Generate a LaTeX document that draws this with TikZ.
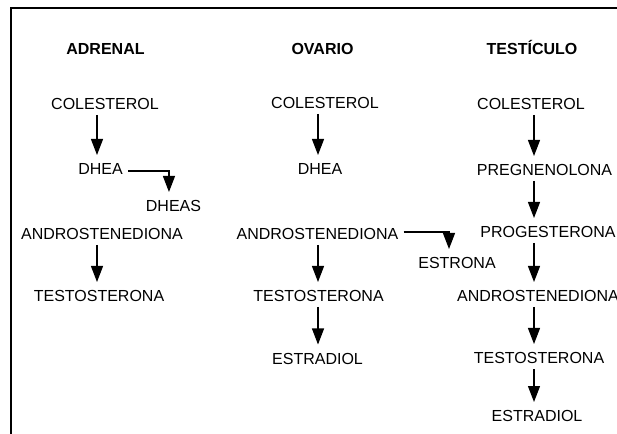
\documentclass[tikz,border=0pt]{standalone}
\usepackage{fontspec}
\setmainfont{Liberation Sans}
\usetikzlibrary{arrows.meta,positioning,calc}

\begin{document}
\begin{tikzpicture}[%
    x=0.75pt, y=-0.75pt,
    basic/.style={inner sep=0pt,text height=8.6pt,text depth=0pt,font=\fontsize{12}{14}\selectfont},
    organ/.style={basic,font=\bfseries\fontsize{12}{14}\selectfont},
    conv/.style={draw,line width=0.9pt,-{Triangle[width=9pt,length=12pt]},shorten <=3.75pt,shorten >=6pt},
    frame/.style={draw,line width=1.1pt}
]
        \useasboundingbox (0,0) rectangle (617,434);
        \path[frame] (617,8) -- (11,8) -- (11,434);

        % adrenal
        \node[organ] (tA) at (105.5,49) {ADRENAL};
        \node[basic] (aCol) at (105,104) {COLESTEROL};
        \node[basic] (aDhea) at (100.5,169) {DHEA};
        \node[basic] (aDheas) at (173.5,206) {DHEAS};
        \node[basic] (aAndro) at (102,234) {ANDROSTENEDIONA};
        \node[basic] (aTesto) at (99,296) {TESTOSTERONA};
        \coordinate (axA) at (97,0);

        \path[conv] (aCol.south -| axA) -- (aDhea.north -| axA);
        \path[conv] ([yshift=-1.5pt]aDhea.east) -| ([xshift=-3.4pt]aDheas.north);
        \path[conv] (aAndro.south -| axA) -- (aTesto.north -| axA);

        % ovario
        \node[organ] (tO) at (322.5,49) {OVARIO};
        \node[basic] (oCol) at (325,103) {COLESTEROL};
        \node[basic] (oDhea) at (320,169) {DHEA};
        \node[basic] (oAndro) at (317.5,234) {ANDROSTENEDIONA};
        \node[basic] (oEstrona) at (457,263) {ESTRONA};
        \node[basic] (oTesto) at (318.5,296) {TESTOSTERONA};
        \node[basic] (oEstra) at (317.5,358.5) {ESTRADIOL};
        \coordinate (axO) at (318,0);

        \path[conv] (oCol.south -| axO) -- (oDhea.north -| axO);
        \path[conv] ([yshift=1.5pt]oAndro.east) -| ([xshift=-6pt]oEstrona.north);
        \path[conv] (oAndro.south -| axO) -- (oTesto.north -| axO);
        \path[conv] (oTesto.south -| axO) -- (oEstra.north -| axO);

        % testiculo
        \node[organ] (tT) at (532,49) {TESTÍCULO};
        \node[basic] (tCol) at (531,104) {COLESTEROL};
        \node[basic] (tPreg) at (544.5,170) {PREGNENOLONA};
        \node[basic] (tProg) at (548,232) {PROGESTERONA};
        \node[basic] (tAndro) at (538,296) {ANDROSTENEDIONA};
        \node[basic] (tTesto) at (539,358) {TESTOSTERONA};
        \node[basic] (tEstra) at (537,416) {ESTRADIOL};
        \coordinate (axT) at (534,0);

        \path[conv] (tCol.south -| axT) -- (tPreg.north -| axT);
        \path[conv] (tPreg.south -| axT) -- (tProg.north -| axT);
        \path[conv] (tProg.south -| axT) -- (tAndro.north -| axT);
        \path[conv] (tAndro.south -| axT) -- (tTesto.north -| axT);
        \path[conv] (tTesto.south -| axT) -- (tEstra.north -| axT);
\end{tikzpicture}
\end{document}
